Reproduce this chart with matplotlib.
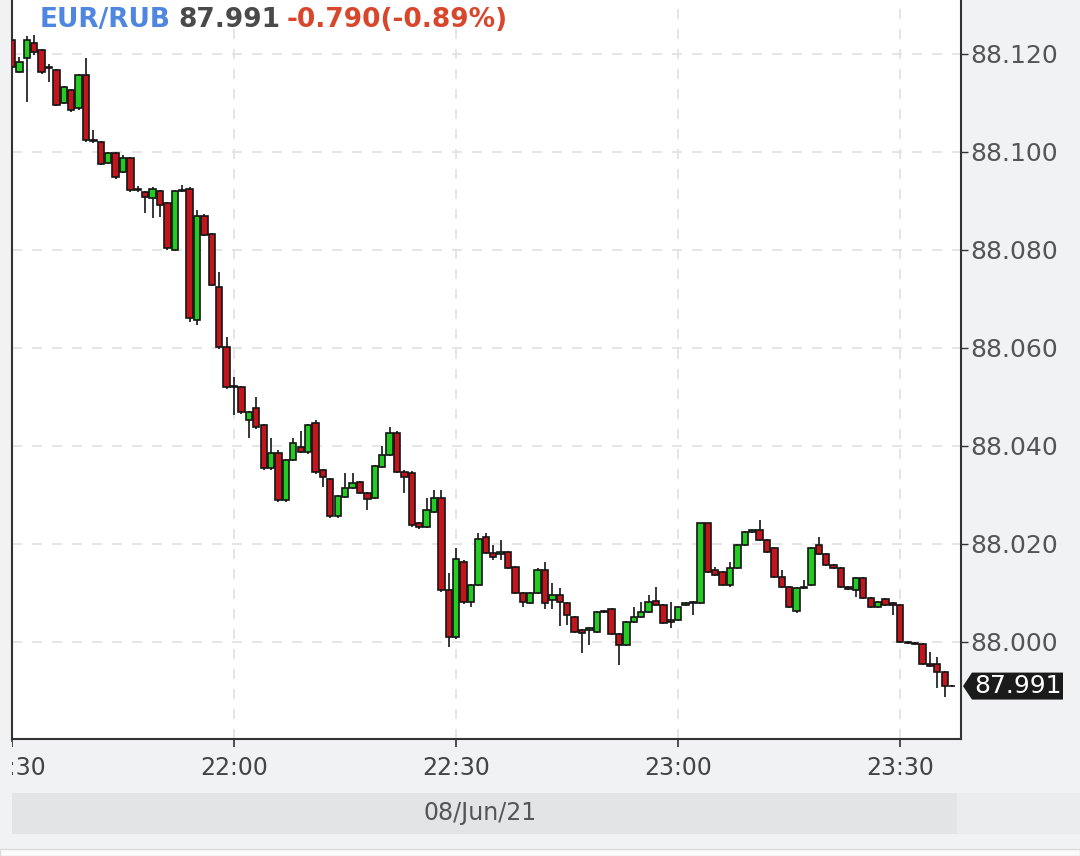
import matplotlib
matplotlib.use("Agg")
import matplotlib.pyplot as plt
import matplotlib.dates as mdates
from matplotlib.patches import Rectangle, Polygon
from matplotlib.transforms import IdentityTransform
import numpy as np
import pandas as pd

# 1-minute EUR/RUB candles, 08/Jun/21 from 21:30
start = "2021-06-08 21:30"
opens = [88.1229, 88.1163, 88.1192, 88.1222, 88.1208, 88.1173, 88.1167, 88.1100, 88.1127, 88.1090,
         88.1157, 88.1024, 88.1020, 88.0978, 88.0998, 88.0959, 88.0988, 88.0924, 88.0918, 88.0906,
         88.0920, 88.0896, 88.0800, 88.0920, 88.0924, 88.0657, 88.0869, 88.0833, 88.0724, 88.0602,
         88.0520, 88.0520, 88.0453, 88.0478, 88.0443, 88.0355, 88.0386, 88.0290, 88.0371, 88.0398,
         88.0388, 88.0447, 88.0351, 88.0333, 88.0257, 88.0296, 88.0314, 88.0327, 88.0304, 88.0294,
         88.0357, 88.0382, 88.0427, 88.0347, 88.0345, 88.0243, 88.0235, 88.0265, 88.0294, 88.0106,
         88.0010, 88.0163, 88.0082, 88.0116, 88.0214, 88.0182, 88.0180, 88.0184, 88.0153, 88.0100,
         88.0080, 88.0100, 88.0147, 88.0086, 88.0096, 88.0080, 88.0051, 88.0024, 88.0024, 88.0020,
         88.0061, 88.0067, 88.0016, 87.9994, 88.0041, 88.0051, 88.0061, 88.0084, 88.0076, 88.0045,
         88.0045, 88.0076, 88.0080, 88.0080, 88.0243, 88.0147, 88.0143, 88.0116, 88.0151, 88.0198,
         88.0224, 88.0229, 88.0208, 88.0192, 88.0133, 88.0112, 88.0063, 88.0110, 88.0116, 88.0198,
         88.0180, 88.0157, 88.0151, 88.0112, 88.0106, 88.0131, 88.0090, 88.0071, 88.0088, 88.0080,
         88.0076, 88.0000, 87.9998, 87.9996, 87.9955, 87.9955, 87.9939, 87.9910]
highs = [88.1231, 88.1194, 88.1237, 88.1239, 88.1210, 88.1180, 88.1169, 88.1135, 88.1129, 88.1159,
         88.1192, 88.1045, 88.1022, 88.1000, 88.1000, 88.0994, 88.0990, 88.0931, 88.0920, 88.0928,
         88.0922, 88.0898, 88.0922, 88.0933, 88.0928, 88.0882, 88.0873, 88.0835, 88.0755, 88.0622,
         88.0541, 88.0522, 88.0471, 88.0500, 88.0445, 88.0416, 88.0392, 88.0373, 88.0416, 88.0431,
         88.0445, 88.0453, 88.0353, 88.0335, 88.0300, 88.0345, 88.0345, 88.0329, 88.0306, 88.0361,
         88.0400, 88.0439, 88.0431, 88.0351, 88.0349, 88.0245, 88.0294, 88.0310, 88.0310, 88.0141,
         88.0192, 88.0167, 88.0118, 88.0222, 88.0222, 88.0198, 88.0208, 88.0186, 88.0155, 88.0102,
         88.0102, 88.0151, 88.0163, 88.0120, 88.0110, 88.0082, 88.0053, 88.0027, 88.0031, 88.0063,
         88.0065, 88.0069, 88.0018, 88.0043, 88.0071, 88.0082, 88.0096, 88.0112, 88.0078, 88.0082,
         88.0073, 88.0082, 88.0084, 88.0243, 88.0243, 88.0153, 88.0145, 88.0163, 88.0200, 88.0227,
         88.0231, 88.0249, 88.0210, 88.0194, 88.0147, 88.0114, 88.0112, 88.0127, 88.0194, 88.0214,
         88.0182, 88.0159, 88.0153, 88.0114, 88.0133, 88.0133, 88.0092, 88.0084, 88.0090, 88.0082,
         88.0078, 88.0002, 88.0000, 87.9998, 87.9980, 87.9969, 87.9941, 87.9912]
lows = [88.1169, 88.1161, 88.1102, 88.1198, 88.1159, 88.1143, 88.1094, 88.1098, 88.1082, 88.1086,
        88.1020, 88.1018, 88.0973, 88.0976, 88.0945, 88.0957, 88.0918, 88.0918, 88.0876, 88.0865,
        88.0867, 88.0800, 88.0798, 88.0918, 88.0653, 88.0647, 88.0829, 88.0727, 88.0598, 88.0516,
        88.0463, 88.0465, 88.0416, 88.0435, 88.0351, 88.0351, 88.0286, 88.0286, 88.0369, 88.0386,
        88.0384, 88.0343, 88.0316, 88.0253, 88.0253, 88.0294, 88.0312, 88.0302, 88.0269, 88.0292,
        88.0355, 88.0380, 88.0345, 88.0304, 88.0235, 88.0231, 88.0233, 88.0263, 88.0102, 87.9990,
        88.0006, 88.0078, 88.0071, 88.0114, 88.0180, 88.0167, 88.0167, 88.0149, 88.0098, 88.0071,
        88.0078, 88.0098, 88.0067, 88.0067, 88.0033, 88.0035, 88.0018, 87.9978, 87.9994, 88.0018,
        88.0059, 88.0014, 87.9953, 87.9992, 88.0039, 88.0049, 88.0059, 88.0073, 88.0037, 88.0029,
        88.0043, 88.0073, 88.0055, 88.0078, 88.0141, 88.0135, 88.0114, 88.0112, 88.0149, 88.0196,
        88.0222, 88.0206, 88.0182, 88.0131, 88.0110, 88.0069, 88.0059, 88.0108, 88.0114, 88.0178,
        88.0155, 88.0149, 88.0110, 88.0106, 88.0092, 88.0088, 88.0069, 88.0069, 88.0073, 88.0055,
        87.9998, 87.9996, 87.9994, 87.9953, 87.9949, 87.9906, 87.9888, 87.9908]
closes = [88.1173, 88.1184, 88.1229, 88.1204, 88.1163, 88.1171, 88.1096, 88.1133, 88.1086, 88.1157,
          88.1024, 88.1022, 88.0976, 88.0998, 88.0949, 88.0988, 88.0922, 88.0922, 88.0908, 88.0924,
          88.0892, 88.0804, 88.0920, 88.0922, 88.0661, 88.0869, 88.0831, 88.0729, 88.0602, 88.0520,
          88.0522, 88.0469, 88.0469, 88.0439, 88.0355, 88.0386, 88.0290, 88.0371, 88.0406, 88.0388,
          88.0443, 88.0347, 88.0337, 88.0257, 88.0298, 88.0314, 88.0324, 88.0304, 88.0292, 88.0359,
          88.0382, 88.0427, 88.0347, 88.0337, 88.0239, 88.0235, 88.0269, 88.0294, 88.0106, 88.0010,
          88.0169, 88.0082, 88.0116, 88.0210, 88.0182, 88.0173, 88.0184, 88.0151, 88.0100, 88.0082,
          88.0100, 88.0147, 88.0080, 88.0096, 88.0082, 88.0055, 88.0020, 88.0018, 88.0029, 88.0061,
          88.0063, 88.0016, 87.9994, 88.0041, 88.0051, 88.0061, 88.0082, 88.0076, 88.0039, 88.0041,
          88.0071, 88.0080, 88.0082, 88.0243, 88.0143, 88.0137, 88.0116, 88.0151, 88.0198, 88.0224,
          88.0229, 88.0208, 88.0184, 88.0133, 88.0112, 88.0071, 88.0110, 88.0112, 88.0192, 88.0180,
          88.0157, 88.0151, 88.0112, 88.0108, 88.0131, 88.0090, 88.0071, 88.0082, 88.0076, 88.0076,
          88.0000, 87.9998, 87.9996, 87.9955, 87.9951, 87.9939, 87.9910, 87.9910]

yticks = [88.000, 88.020, 88.040, 88.060, 88.080, 88.100, 88.120]
symbol = "EUR/RUB"
last_txt = "87.991"
change_txt = "-0.790(-0.89%)"
date_txt = "08/Jun/21"

W, H = 1080, 856
bg = "#f1f2f4"
fig = plt.figure(figsize=(W / 100, H / 100), dpi=100, facecolor=bg)
ax = fig.add_axes([12 / W, 1 - 739 / H, (961 - 12) / W, 739 / H])
ax.set_facecolor("white")

o = np.array(opens); h = np.array(highs); l = np.array(lows); c = np.array(closes)
t = mdates.date2num(pd.date_range(start, periods=len(o), freq="min").to_pydatetime())
one_min = 1 / 1440
up = c > o

ax.vlines(t, l, h, color="#151515", linewidth=1.2, zorder=2)
ax.bar(t[up], (c - o)[up], bottom=o[up], width=0.86 * one_min, color="#22cc22",
       edgecolor="#151515", linewidth=1.2, zorder=3)
ax.bar(t[~up], (c - o)[~up], bottom=o[~up], width=0.86 * one_min, color="#c3161c",
       edgecolor="#151515", linewidth=1.2, zorder=3)

ax.set_xlim(t[0], t[0] + 128.2 * one_min)
ax.set_ylim(87.9802, 88.131)

ax.xaxis.set_major_locator(mdates.MinuteLocator(byminute=[0, 30]))
ax.xaxis.set_major_formatter(mdates.DateFormatter("%H:%M"))
ax.set_yticks(yticks)
ax.yaxis.set_major_formatter(matplotlib.ticker.FormatStrFormatter("%.3f"))
ax.yaxis.tick_right()
ax.tick_params(axis="y", direction="out", length=5, width=1, color="#333333",
               labelsize=18, labelcolor="#555555", pad=2)
ax.tick_params(axis="x", direction="out", length=6, width=1.2, color="#333333",
               labelsize=17, labelcolor="#444444", pad=6)

ax.grid(True, color="#e0e0e0", linestyle=(0, (6, 6)), linewidth=1.2)
ax.set_axisbelow(True)
ax.spines["top"].set_visible(False)
for s in ["left", "right", "bottom"]:
    ax.spines[s].set_color("#333333")
    ax.spines[s].set_linewidth(1.5)

# hide part of first tick label left of the plot
fig.patches.append(Rectangle((0, 1 - 790 / H), 12 / W, 48 / H, transform=fig.transFigure,
                             facecolor=bg, edgecolor="none", zorder=10))

# date band
fig.patches.append(Rectangle((12 / W, 1 - 834 / H), (957 - 12) / W, 41 / H,
                             transform=fig.transFigure, facecolor="#e3e4e6", edgecolor="none"))
fig.patches.append(Rectangle((957 / W, 1 - 834 / H), (W - 957) / W, 41 / H,
                             transform=fig.transFigure, facecolor="#ebecee", edgecolor="none"))
fig.patches.append(Rectangle((0, 0), 1, 7 / H, transform=fig.transFigure,
                             facecolor="#fbfbfb", edgecolor="#dcdcdc", linewidth=1))
fig.text(480 / W, 1 - 813 / H, date_txt, ha="center", va="center", fontsize=17, color="#555555")

# title
t1 = fig.text(40 / W, 1 - 33 / H, symbol, fontsize=19, fontweight="bold",
              color="#4f87e0", va="bottom", ha="left")
t2 = ax.annotate(last_txt, xy=(1, 0), xycoords=t1, xytext=(7, 0), textcoords="offset pixels",
                 fontsize=19, fontweight="bold", color="#4a4a4a", va="bottom", ha="left")
ax.annotate(change_txt, xy=(1, 0), xycoords=t2, xytext=(7, 0), textcoords="offset pixels",
            fontsize=19, fontweight="bold", color="#d8462c", va="bottom", ha="left")

# last price tag
fig.canvas.draw()
xr = ax.transAxes.transform((1, 0))[0]
yd = ax.transData.transform((t[-1], c[-1]))[1]
hh = 13.5
tag = Polygon([(xr + 2, yd), (xr + 11, yd + hh), (xr + 102, yd + hh), (xr + 102, yd - hh),
               (xr + 11, yd - hh)], closed=True, transform=IdentityTransform(),
              facecolor="#1b1b1b", edgecolor="none", zorder=20)
fig.patches.append(tag)
fig.text((xr + 57) / W, yd / H, last_txt, ha="center", va="center", fontsize=18,
         color="white", zorder=21)

fig.savefig("out.png", dpi=100, facecolor=bg)
